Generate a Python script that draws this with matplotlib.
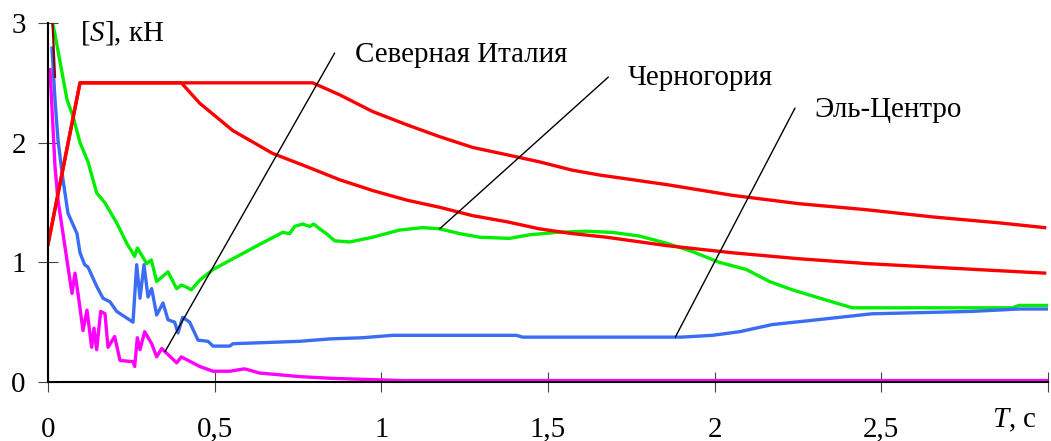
import numpy as np
import matplotlib
matplotlib.use("Agg")
import matplotlib.pyplot as plt

plt.rcParams["font.family"] = ["Liberation Serif", "DejaVu Serif"]
plt.rcParams["mathtext.fontset"] = "custom"
plt.rcParams["mathtext.rm"] = "Liberation Serif"
plt.rcParams["mathtext.it"] = "Liberation Serif:italic"

FS = 20.9

# upper red curve (plateau up to 0.8 s)
t_red_hi = [0.0, 0.096, 0.794, 0.875, 0.974, 1.076, 1.175, 1.274, 1.375, 1.474,
            1.573, 1.654, 1.855, 2.053, 2.253, 2.454, 2.652, 2.853, 2.99]
s_red_hi = [1.15, 2.50, 2.50, 2.40, 2.26, 2.15, 2.05, 1.96, 1.90, 1.84,
            1.77, 1.73, 1.65, 1.56, 1.49, 1.44, 1.38, 1.33, 1.29]

# lower red curve (plateau up to 0.4 s)
t_red_lo = [0.0, 0.096, 0.40, 0.455, 0.555, 0.674, 0.776, 0.875, 0.974, 1.076,
            1.175, 1.274, 1.375, 1.474, 1.573, 1.675, 1.855, 2.053, 2.253,
            2.454, 2.652, 2.853, 2.99]
s_red_lo = [1.15, 2.50, 2.50, 2.33, 2.10, 1.91, 1.80, 1.69, 1.60, 1.52,
            1.46, 1.39, 1.34, 1.28, 1.24, 1.21, 1.14, 1.08, 1.03,
            0.99, 0.96, 0.93, 0.91]

t_dark = [0.012, 0.021]
s_dark = [3.10, 2.55]

# Черногория
t_mont = [0.015, 0.02, 0.057, 0.075, 0.096, 0.12, 0.146, 0.17, 0.206, 0.236, 0.26,
          0.268, 0.296, 0.31, 0.326, 0.36, 0.386, 0.40, 0.41, 0.43, 0.455, 0.495,
          0.555, 0.635, 0.704, 0.725, 0.74, 0.764, 0.785, 0.797, 0.815, 0.835,
          0.86, 0.905, 0.974, 1.055, 1.124, 1.175, 1.235, 1.295, 1.384, 1.444,
          1.525, 1.615, 1.693, 1.774, 1.855, 1.933, 2.014, 2.095, 2.164, 2.233,
          2.304, 2.364, 2.413, 2.892, 2.913, 3.0]
s_mont = [2.98, 2.92, 2.36, 2.22, 2.00, 1.84, 1.58, 1.50, 1.33, 1.16, 1.05,
          1.12, 0.99, 1.02, 0.84, 0.92, 0.78, 0.81, 0.80, 0.77, 0.85, 0.94,
          1.03, 1.15, 1.25, 1.24, 1.30, 1.32, 1.30, 1.32, 1.28, 1.24,
          1.18, 1.17, 1.21, 1.27, 1.29, 1.28, 1.24, 1.21, 1.20, 1.23,
          1.25, 1.26, 1.25, 1.22, 1.16, 1.09, 1.00, 0.94, 0.84, 0.77,
          0.71, 0.66, 0.62, 0.62, 0.64, 0.64]

# Эль-Центро
t_elc = [0.012, 0.021, 0.03, 0.045, 0.06, 0.087, 0.096, 0.11, 0.12, 0.146, 0.165,
         0.186, 0.206, 0.255, 0.266, 0.276, 0.288, 0.30, 0.311, 0.326, 0.345,
         0.36, 0.38, 0.39, 0.404, 0.425, 0.45, 0.48, 0.495, 0.545, 0.555,
         0.655, 0.755, 0.845, 0.944, 1.034, 1.405, 1.424, 1.90, 1.993, 2.074,
         2.173, 2.274, 2.373, 2.472, 2.772, 2.913, 3.0]
s_elc = [2.79, 2.36, 2.02, 1.69, 1.41, 1.24, 1.08, 0.98, 0.96, 0.80, 0.70,
         0.67, 0.59, 0.50, 0.98, 0.70, 0.98, 0.71, 0.78, 0.56, 0.66,
         0.52, 0.50, 0.41, 0.54, 0.50, 0.35, 0.34, 0.30, 0.30, 0.32,
         0.33, 0.34, 0.36, 0.37, 0.39, 0.39, 0.375, 0.375, 0.39, 0.42,
         0.48, 0.51, 0.54, 0.57, 0.59, 0.61, 0.61]

# Северная Италия
t_ital = [0.006, 0.021, 0.03, 0.045, 0.06, 0.072, 0.081, 0.09, 0.105, 0.117,
          0.131, 0.138, 0.146, 0.158, 0.171, 0.18, 0.20, 0.216, 0.255, 0.26,
          0.268, 0.276, 0.29, 0.311, 0.326, 0.341, 0.386, 0.40, 0.455, 0.495,
          0.545, 0.59, 0.635, 0.755, 0.855, 1.064, 3.0]
s_ital = [2.61, 1.80, 1.52, 1.24, 0.96, 0.74, 0.91, 0.74, 0.43, 0.60,
          0.29, 0.45, 0.27, 0.59, 0.57, 0.29, 0.38, 0.18, 0.17, 0.13,
          0.37, 0.27, 0.42, 0.32, 0.21, 0.28, 0.16, 0.21, 0.13, 0.09,
          0.09, 0.11, 0.075, 0.045, 0.03, 0.012, 0.012]

x_ticks = [0, 0.5, 1, 1.5, 2, 2.5, 3]
x_tick_labels = ["0", "0,5", "1", "1,5", "2", "2,5", ""]
y_ticks = [0, 1, 2, 3]

fig = plt.figure(figsize=(10.51, 4.41), dpi=100)
ax = fig.add_axes([48 / 1051, 1 - 382 / 441, 1000 / 1051, 359 / 441])

lw = 2.4
ax.plot(t_mont, s_mont, color="#00ee00", lw=lw)
ax.plot(t_elc, s_elc, color="#3a6cf4", lw=lw)
ax.plot(t_ital, s_ital, color="#ff00ff", lw=lw)
ax.plot(t_red_hi, s_red_hi, color="#ff0000", lw=lw)
ax.plot(t_red_lo, s_red_lo, color="#ff0000", lw=lw)
ax.plot(t_dark, s_dark, color="#8b0000", lw=1.6)

ax.set_xlim(0, 3)
ax.set_ylim(0, 3)
ax.set_xticks(x_ticks)
ax.set_xticklabels(x_tick_labels)
ax.set_yticks(y_ticks)
ax.tick_params(direction="inout", length=14, width=0.8, color="#444444",
               labelsize=FS)
ax.tick_params(axis="x", pad=18)
ax.tick_params(axis="y", pad=9)
for side in ("top", "right"):
    ax.spines[side].set_visible(False)
for side in ("left", "bottom"):
    ax.spines[side].set_linewidth(1.5)
    ax.spines[side].set_color("black")

# leader lines and labels
leaders = [
    ("Северная Италия", t_ital, s_ital, 0.351, (0.860, 2.749), (0.92, 2.673)),
    ("Черногория", t_mont, s_mont, 1.175, (1.681, 2.548), (1.738, 2.481)),
    ("Эль-Центро", t_elc, s_elc, 1.882, (2.241, 2.289), (2.298, 2.214)),
]
for name, tt, ss, t0, end, pos in leaders:
    ax.annotate("", xy=(t0, np.interp(t0, tt, ss)), xytext=end,
                arrowprops=dict(arrowstyle="-", lw=1.0, color="black",
                                shrinkA=0, shrinkB=0))
    ax.text(pos[0], pos[1], name, fontsize=FS, ha="left", va="baseline")

fig.text(80 / 1051, 1 - 41 / 441, "[$S$], кН", fontsize=FS,
         ha="left", va="baseline")
fig.text(1037 / 1051, 1 - 427 / 441, "$T$, с", fontsize=FS,
         ha="right", va="baseline")

fig.savefig("out.png", dpi=100)
